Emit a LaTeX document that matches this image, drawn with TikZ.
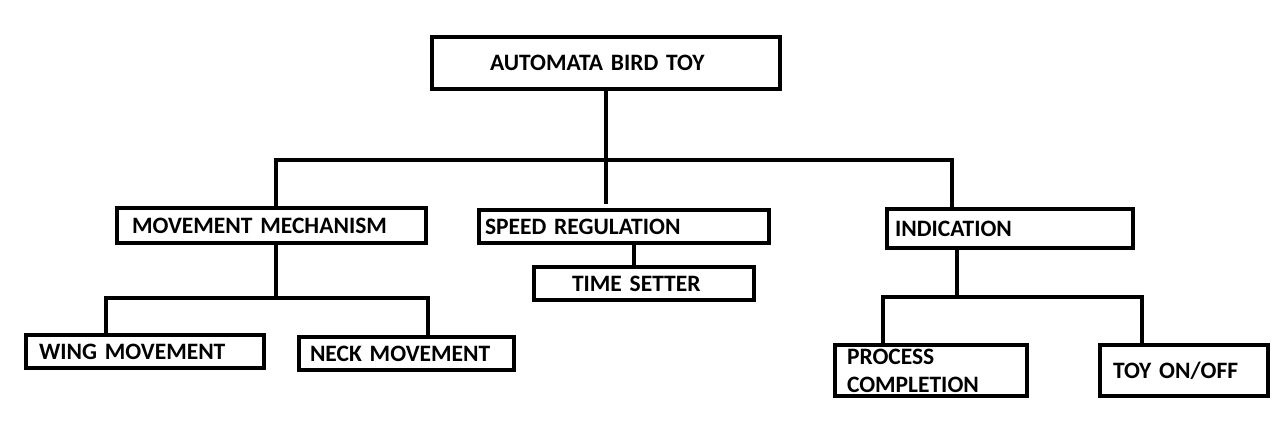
\documentclass[tikz,border=0pt]{standalone}
\usepackage{fontspec}
\setmainfont{Carlito}[WordSpace=0.75]
\usepackage{tikz}

\begin{document}
\begin{tikzpicture}[x=1pt,y=-1pt,
every node/.style={
rectangle,
align = left,
anchor=north west,
outer sep=0pt,
inner ysep=0pt,
font=\bfseries\fontsize{23.5}{28}\selectfont,
},
box/.style={
draw,
line width=4pt,
},
link/.style={
line width=3.5pt,
}]

\useasboundingbox[fill=white](0,0) rectangle (1280,425);

%top box
\node[box,minimum height=52pt,inner xsep=58pt,text width=232pt](auto)at(432,37){AUTOMATA BIRD TOY};

%second row
\node[box,minimum height=35pt,inner xsep=15pt,text width=279pt](move)at(117,208){MOVEMENT MECHANISM};
\node[box,minimum height=33pt,inner xsep=6pt,text width=278pt](speed)at(479,210){SPEED REGULATION};
\node[box,minimum height=39pt,inner xsep=8pt,text width=230pt](ind)at(887,209){INDICATION};
\node[box,minimum height=33pt,inner xsep=38pt,text width=144pt](time)at(534,267){TIME SETTER};

%third row
\node[box,minimum height=33pt,inner xsep=13pt,text width=212pt](wing)at(26,335){WING MOVEMENT};
\node[box,minimum height=33pt,inner xsep=11pt,text width=193pt](neck)at(299,337){NECK MOVEMENT};
\node[box,minimum height=51pt,inner xsep=12pt,text width=168pt](proc)at(835,345){PROCESS\\COMPLETION};
\node[box,minimum height=51pt,inner xsep=13pt,text width=142pt](toy)at(1100,345){TOY ON/OFF};

%branch points
\coordinate(bar)at(608,160);
\coordinate(mmbar)at(276,298);
\coordinate(indbar)at(957,297);

%links
\draw[link](auto.south)--([yshift=6pt]auto.south|-speed.north);
\draw[link]([xshift=159pt]move.north west)|-(bar)-|([xshift=65pt]ind.north west);
\draw[link]([xshift=155pt]speed.south west)--([xshift=155pt]speed.south west|-time.north);
\draw[link]([xshift=159pt]move.south west)--(mmbar);
\draw[link]([xshift=80pt]wing.north west)|-(mmbar)-|([xshift=129pt]neck.north west);
\draw[link]([xshift=70pt]ind.south west)--(indbar);
\draw[link]([xshift=48pt]proc.north west)|-(indbar)-|([xshift=42pt]toy.north west);
\end{tikzpicture}
\end{document}
